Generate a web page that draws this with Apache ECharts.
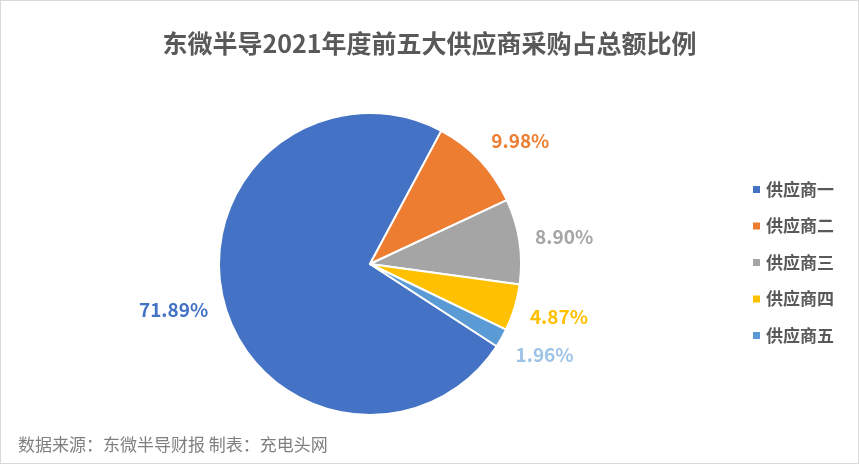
<!DOCTYPE html>
<html>
<head>
<meta charset="utf-8">
<script src="https://cdn.jsdelivr.net/npm/echarts@6/dist/echarts.min.js"></script>
<style>
  html, body { margin: 0; padding: 0; background: #fff; }
  #chart { width: 857px; height: 462px; border: 1px solid #d9d9d9; }
</style>
</head>
<body>
<div id="chart"></div>
<script>
// 供应商名称与占比
var suppliers = ['供应商一', '供应商二', '供应商三', '供应商四', '供应商五'];
var shares = [71.89, 9.98, 8.90, 4.87, 1.96];
var colors = ['#4472C4', '#ED7D31', '#A5A5A5', '#FFC000', '#5B9BD5'];
var labelColors = ['#4472C4', '#ED7D31', '#A5A5A5', '#FFC000', '#9DC3E6'];

var cx = 369, cy = 263, R = 151, startAngle = -33, labelGap = 16;

// mid angle of each slice (degrees, echarts convention, clockwise)
var total = shares.reduce(function (a, b) { return a + b; }, 0);
var midAngles = [];
var acc = 0;
shares.forEach(function (v) {
  midAngles.push(startAngle - (acc + v / 2) / total * 360);
  acc += v;
});

var chart = echarts.init(document.getElementById('chart'));
var data = [];
for (var i = 0; i < suppliers.length; i++) {
  data.push({
    name: suppliers[i],
    value: shares[i],
    itemStyle: { color: colors[i] },
    label: { color: labelColors[i] }
  });
}
chart.setOption({
  animation: false,
  title: {
    text: '东微半导2021年度前五大供应商采购占总额比例',
    left: 'center',
    top: 25,
    textStyle: { fontFamily: 'Noto Sans CJK SC', fontSize: 25, fontWeight: 'bold', color: '#595959' }
  },
  legend: {
    orient: 'vertical',
    left: 745,
    top: 175,
    itemWidth: 9,
    itemHeight: 9,
    itemGap: 19.5,
    icon: 'rect',
    data: suppliers,
    textStyle: { fontFamily: 'Noto Sans CJK SC', fontSize: 17, fontWeight: 'bold', color: '#595959' }
  },
  graphic: [{
    type: 'text',
    left: 17,
    top: 435,
    style: { text: '数据来源：东微半导财报 制表：充电头网', font: '17px "Noto Sans CJK SC"', fill: '#7f7f7f' }
  }],
  series: [{
    type: 'pie',
    center: [cx, cy],
    radius: [0, R],
    startAngle: startAngle,
    clockwise: true,
    itemStyle: { borderColor: '#fff', borderWidth: 2 },
    label: {
      show: true,
      position: 'outside',
      formatter: function (p) { return p.value.toFixed(2) + '%'; },
      fontFamily: 'Noto Sans CJK SC',
      fontSize: 19,
      fontWeight: 'bold'
    },
    labelLine: { show: false },
    // label box hangs off a point just outside the rim, on the side facing away from the centre
    labelLayout: function (p) {
      var a = midAngles[p.dataIndex] * Math.PI / 180;
      var dx = Math.cos(a), dy = -Math.sin(a);
      var w = p.labelRect.width, h = 17;
      var d = R + labelGap;
      var vy = Math.max(-1, Math.min(1, dy * 2));
      return {
        x: cx + dx * d + (dx >= 0 ? 1 : -1) * w / 2,
        y: cy + dy * d + vy * h / 2,
        align: 'center',
        verticalAlign: 'middle'
      };
    },
    data: data
  }]
});
</script>
</body>
</html>
